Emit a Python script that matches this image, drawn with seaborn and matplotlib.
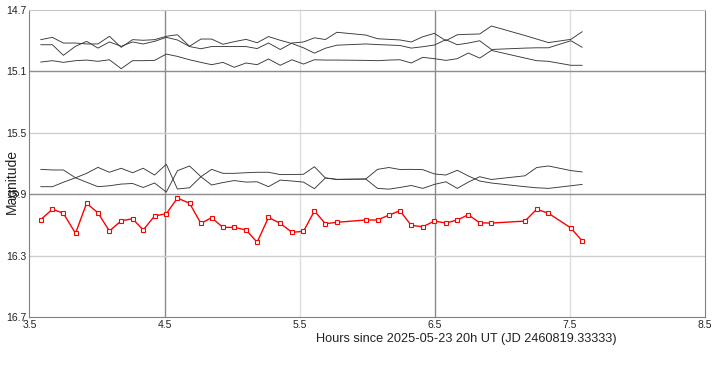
import numpy as np
import pandas as pd
import matplotlib
matplotlib.use("Agg")
import matplotlib.pyplot as plt
import seaborn as sns

# time of each frame, hours since 2025-05-23 20h UT
hours = [3.583, 3.670, 3.751, 3.841, 3.923, 4.007, 4.092, 4.179, 4.263, 4.342,
         4.426, 4.513, 4.595, 4.685, 4.769, 4.848, 4.932, 5.016, 5.103, 5.185,
         5.269, 5.356, 5.443, 5.528, 5.609, 5.690, 5.775, 5.989, 6.076, 6.160,
         6.242, 6.326, 6.411, 6.497, 6.582, 6.666, 6.748, 6.832, 6.919, 7.167,
         7.254, 7.341, 7.507, 7.591]

# target star (red)
target_mag = [16.066, 15.998, 16.024, 16.155, 15.959, 16.021, 16.140, 16.073, 16.060, 16.133,
              16.042, 16.027, 15.925, 15.959, 16.090, 16.053, 16.116, 16.116, 16.133, 16.213,
              16.051, 16.090, 16.148, 16.142, 16.009, 16.092, 16.083, 16.068, 16.068, 16.036,
              16.008, 16.103, 16.112, 16.075, 16.088, 16.068, 16.034, 16.086, 16.088, 16.075,
              15.998, 16.024, 16.120, 16.205]

# comparison / check stars (black)
comp_1 = [14.893, 14.878, 14.915, 14.915, 14.921, 14.921, 14.871, 14.943, 14.893, 14.897,
          14.893, 14.871, 14.861, 14.936, 14.889, 14.889, 14.923, 14.906, 14.891, 14.913,
          14.873, 14.897, 14.918, 14.946, 14.981, 14.949, 14.929, 14.921, 14.925, 14.928,
          14.931, 14.948, 14.939, 14.928, 14.893, 14.926, 14.915, 14.900, 14.957, 14.948,
          14.946, 14.946, 14.900, 14.943]
comp_2 = [14.926, 14.926, 14.995, 14.936, 14.904, 14.948, 14.908, 14.936, 14.908, 14.921,
          14.904, 14.878, 14.895, 14.938, 14.952, 14.938, 14.938, 14.938, 14.938, 14.951,
          14.915, 14.957, 14.915, 14.908, 14.881, 14.892, 14.845, 14.863, 14.887, 14.891,
          14.895, 14.908, 14.874, 14.852, 14.900, 14.861, 14.858, 14.856, 14.804, 14.866,
          14.889, 14.912, 14.891, 14.841]
comp_3 = [15.039, 15.030, 15.041, 15.030, 15.026, 15.034, 15.024, 15.082, 15.030, 15.030,
          15.028, 14.987, 15.002, 15.024, 15.041, 15.056, 15.041, 15.073, 15.045, 15.056,
          15.019, 15.060, 15.024, 15.052, 15.024, 15.026, 15.026, 15.028, 15.030, 15.026,
          15.024, 15.045, 15.008, 15.017, 15.028, 15.017, 14.980, 15.013, 14.963, 15.013,
          15.030, 15.034, 15.060, 15.060]
comp_4 = [15.738, 15.742, 15.742, 15.793, 15.764, 15.725, 15.757, 15.731, 15.760, 15.731,
          15.775, 15.705, 15.866, 15.858, 15.786, 15.738, 15.764, 15.764, 15.760, 15.757,
          15.757, 15.772, 15.772, 15.770, 15.721, 15.794, 15.804, 15.801, 15.738, 15.726,
          15.739, 15.738, 15.740, 15.768, 15.775, 15.744, 15.781, 15.814, 15.827, 15.851,
          15.858, 15.862, 15.845, 15.836]
comp_5 = [15.851, 15.851, 15.822, 15.793, 15.822, 15.851, 15.845, 15.834, 15.830, 15.856,
          15.827, 15.886, 15.747, 15.716, 15.786, 15.840, 15.824, 15.811, 15.821, 15.819,
          15.851, 15.808, 15.814, 15.821, 15.864, 15.794, 15.803, 15.801, 15.862, 15.867,
          15.856, 15.843, 15.862, 15.836, 15.819, 15.862, 15.821, 15.786, 15.804, 15.780,
          15.726, 15.716, 15.746, 15.755]

x_ticks = [3.5, 4.5, 5.5, 6.5, 7.5, 8.5]
y_ticks = [14.7, 15.1, 15.5, 15.9, 16.3, 16.7]

comps = {'c1': comp_1, 'c2': comp_2, 'c3': comp_3, 'c4': comp_4, 'c5': comp_5}
comp_df = pd.concat([pd.DataFrame({'hours': hours, 'mag': v, 'star': k})
                     for k, v in comps.items()])
target_df = pd.DataFrame({'hours': hours, 'mag': target_mag})

sns.set_style("white")
plt.rcParams['font.family'] = ['Liberation Sans', 'DejaVu Sans']

fig = plt.figure(figsize=(7.18, 3.65), dpi=100)
ax = fig.add_axes([0.041, 0.1315, 0.941, 0.841])

# grid - alternating dark / light lines
for i, v in enumerate(x_ticks[1:-1]):
    ax.axvline(v, color='#8c8c8c' if i % 2 == 0 else '#dedede', lw=1, zorder=0)
for i, v in enumerate(y_ticks[1:-1]):
    ax.axhline(v, color='#8c8c8c' if i % 2 == 0 else '#cfcfcf', lw=1, zorder=0)

sns.lineplot(data=comp_df, x='hours', y='mag', hue='star', palette=['#383838'] * 5,
             lw=0.65, legend=False, ax=ax)
sns.lineplot(data=target_df, x='hours', y='mag', color='red', lw=1, marker='s',
             markersize=3.5, markerfacecolor='white', markeredgecolor='red',
             markeredgewidth=0.8, ax=ax)

ax.set_xlim(3.5, 8.5)
ax.set_ylim(16.7, 14.7)
ax.set_xticks(x_ticks)
ax.set_yticks(y_ticks)
ax.set_xticklabels([f'{v:.1f}' for v in x_ticks])
ax.set_yticklabels([f'{v:.1f}' for v in y_ticks])
ax.tick_params(length=0, labelsize=7.5, pad=2, colors='#222222')
ax.set_xlabel('')
ax.set_ylabel('')

for s in ['left', 'bottom', 'right']:
    ax.spines[s].set_color('#808080')
ax.spines['top'].set_color('#c8c8c8')

fig.text(0.649, 0.071, 'Hours since 2025-05-23 20h UT (JD 2460819.33333)',
         ha='center', va='center', fontsize=9.2, color='#222222')
fig.text(0.016, 0.504, 'Magnitude', rotation=90, ha='center', va='center',
         fontsize=10, color='#222222')

fig.savefig('out.png', dpi=100)
